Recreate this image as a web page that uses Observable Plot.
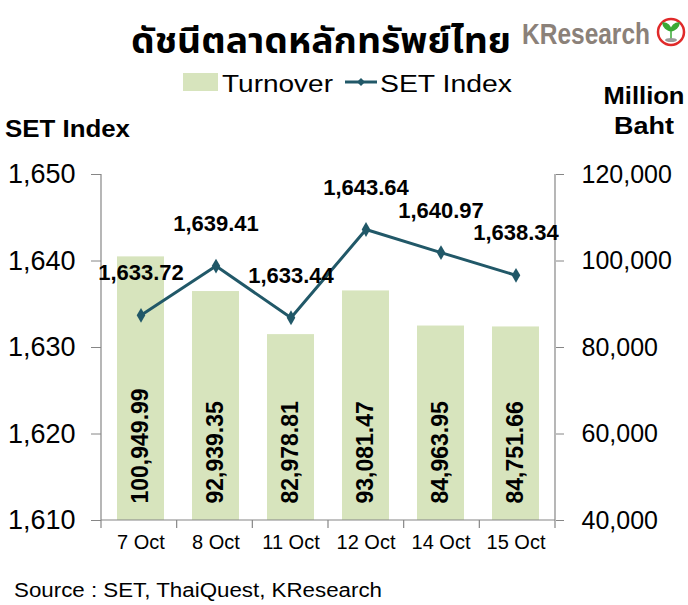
<!DOCTYPE html>
<html><head><meta charset="utf-8">
<script src="https://cdn.jsdelivr.net/npm/d3@7"></script>
<script src="https://cdn.jsdelivr.net/npm/@observablehq/plot@0.6"></script>
<style>
body{margin:0;background:#fff;}
#wrap{position:relative;width:688px;height:605px;overflow:hidden;font-family:"Liberation Sans",Arial,sans-serif;}
#chart{position:absolute;left:0;top:140px;}
#over{position:absolute;left:0;top:0;pointer-events:none;}
#chart [aria-label$="tick"]{stroke:#868686;}
</style></head>
<body><div id="wrap"><div id="chart"></div>
<svg id="over" width="688" height="605" xmlns="http://www.w3.org/2000/svg"></svg></div>
<script>
const dates = ["7 Oct","8 Oct","11 Oct","12 Oct","14 Oct","15 Oct"];
const setIndex = [1633.72,1639.41,1633.44,1643.64,1640.97,1638.34];
const turnover = [100949.99,92939.35,82978.81,93081.47,84963.95,84751.66];
const leftTicks = [1610,1620,1630,1640,1650];
const rightDomain = [40000,120000];
const leftDomain = [1610,1650];

const toLeft = v => leftDomain[0] + (v - rightDomain[0]) * (leftDomain[1]-leftDomain[0]) / (rightDomain[1]-rightDomain[0]);
const toRight = v => rightDomain[0] + (v - leftDomain[0]) * (rightDomain[1]-rightDomain[0]) / (leftDomain[1]-leftDomain[0]);
const data = dates.map((d,i)=>({date:d, set:setIndex[i], turn:turnover[i]}));
const fmt2 = d3.format(",.2f");
const LINE = "#215868", BAR = "#d7e4bd", AX = "#868686";

const frameLines = (index, scales, values, dim) => {
  const g = d3.create("svg:g").attr("stroke", AX).attr("stroke-width", 1.2);
  const l = dim.marginLeft, r = dim.width - dim.marginRight, b = dim.height - dim.marginBottom, t = dim.marginTop;
  g.append("line").attr("x1", l).attr("x2", l).attr("y1", t).attr("y2", b);
  g.append("line").attr("x1", r).attr("x2", r).attr("y1", t).attr("y2", b);
  g.append("line").attr("x1", l).attr("x2", r).attr("y1", b).attr("y2", b);
  const n = dates.length;
  for (let k = 0; k <= n; k++) {
    const x = l + k * (r - l) / n;
    g.append("line").attr("x1", x).attr("x2", x).attr("y1", b).attr("y2", b + 8);
  }
  return g.node();
};

const plot = Plot.plot({
  width: 688, height: 430,
  marginTop: 34, marginBottom: 50, marginLeft: 101, marginRight: 133,
  style: {fontFamily: '"Liberation Sans", Arial, sans-serif', color: "#000", background: "transparent"},
  x: {domain: dates, paddingInner: 0.38, paddingOuter: 0.19, label: null},
  y: {domain: leftDomain, label: null},
  marks: [
    Plot.barY(data, {x: "date", y1: leftDomain[0], y2: d => toLeft(d.turn), fill: BAR}),
    frameLines,
    Plot.axisY({anchor: "left", ticks: leftTicks, tickSize: 10, tickPadding: 16, fontSize: 27, tickFormat: d3.format(","), label: null}),
    Plot.axisY({anchor: "right", ticks: leftTicks, tickSize: 8, tickPadding: 18, fontSize: 25, tickFormat: d => d3.format(",")(toRight(d)), label: null}),
    Plot.axisX({tickSize: 0, tickPadding: 14, fontSize: 20, label: null}),
    Plot.text(data, {x: "date", y: leftDomain[0], text: d => fmt2(d.turn), rotate: -90, textAnchor: "start", dy: -17, fontSize: 23, fontWeight: "bold", fill: "#000"}),
    Plot.lineY(data, {x: "date", y: "set", stroke: LINE, strokeWidth: 3}),
    Plot.dot(data, {x: "date", y: "set", symbol: "diamond", r: 4.5, fill: LINE}),
    Plot.text(data, {x: "date", y: "set", text: d => fmt2(d.set), dy: -42, fontSize: 22, fontWeight: "bold", fill: "#000"})
  ]
});
document.getElementById("chart").appendChild(plot);

const over = d3.select("#over");
const F = '"Liberation Sans", Arial, sans-serif';
const txt = (s, x, y, size, opts={}) => {
  const t = over.append("text").attr("x", x).attr("y", y).attr("font-size", size)
    .attr("font-family", opts.family || F).attr("fill", opts.fill || "#000").text(s);
  if (opts.bold) t.attr("font-weight", "bold");
  if (opts.len) t.attr("textLength", opts.len).attr("lengthAdjust", "spacingAndGlyphs");
  if (opts.anchor) t.attr("text-anchor", opts.anchor);
  return t;
};
// title
txt("ดัชนีตลาดหลักทรัพย์ไทย", 131, 53, 35, {bold: true, len: 380, family: '"Noto Sans Thai", "Noto Sans", "DejaVu Sans", sans-serif'});
// logo
txt("KResearch", 522, 44, 30, {bold: true, len: 128, fill: "#8b8179", family: '"Liberation Sans Narrow", "Liberation Sans", Arial, sans-serif'});
over.append("circle").attr("cx", 671).attr("cy", 32).attr("r", 13).attr("fill", "#fff").attr("stroke", "#e02a2a").attr("stroke-width", 2.5);
over.append("path").attr("d", "M671 40 L671 31 M671 31 C667 30 663 27 663 23 C667 23 671 26 671 31 C671 26 675 23 679 23 C679 27 675 30 671 31").attr("fill", "#3aa935").attr("stroke", "#3aa935").attr("stroke-width", 1.5);
over.append("ellipse").attr("cx", 671).attr("cy", 40).attr("rx", 6).attr("ry", 2).attr("fill", "#9a9a9a");
// legend
over.append("rect").attr("x", 183).attr("y", 73).attr("width", 35).attr("height", 18).attr("fill", BAR);
txt("Turnover", 222, 92, 23, {len: 111});
over.append("line").attr("x1", 345).attr("x2", 377).attr("y1", 82).attr("y2", 82).attr("stroke", LINE).attr("stroke-width", 3);
over.append("path").attr("d", "M361 78 L365 82 L361 86 L357 82 Z").attr("fill", LINE);
txt("SET Index", 380, 92, 23, {len: 132});
// axis titles
txt("SET Index", 5, 137, 24, {bold: true, len: 125});
txt("Million", 644, 104, 23, {bold: true, len: 81, anchor: "middle"});
txt("Baht", 644, 134, 23, {bold: true, len: 60, anchor: "middle"});
// source
txt("Source : SET, ThaiQuest, KResearch", 14, 597, 20, {len: 368});
</script></body></html>
